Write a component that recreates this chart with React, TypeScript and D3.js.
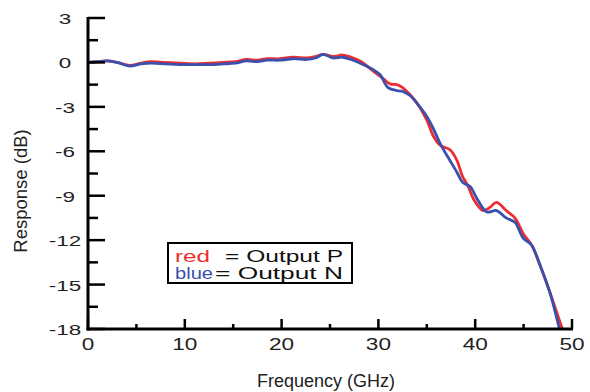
import React from 'react';
import * as d3 from 'd3';

// frequency (GHz) / response (dB)
const freqP = [0, 1, 2, 3, 4.3, 5.5, 6.5, 8, 9.5, 11.2, 12.5, 14, 15.2, 16.4, 17.5, 18.5, 19.8, 21.2, 22.6, 23.5, 24.3, 25.3, 26.3, 27.2, 28.1, 29.5, 30.5, 31.2, 31.9, 32.5, 33.3, 34.1, 35.0, 35.7, 36.4, 37.4, 38.1, 38.7, 39.3, 39.8, 40.8, 41.5, 42.2, 43.2, 44.1, 45.0, 45.8, 46.7, 47.7, 49.0];
const outputP = [0.0, 0.05, 0.1, 0.0, -0.2, -0.05, 0.05, 0.0, -0.05, -0.1, -0.05, 0.0, 0.05, 0.2, 0.15, 0.25, 0.25, 0.35, 0.3, 0.4, 0.55, 0.4, 0.5, 0.35, 0.1, -0.6, -1.1, -1.45, -1.5, -1.7, -2.2, -2.85, -3.9, -5.0, -5.6, -5.9, -6.6, -7.7, -8.4, -9.2, -10.0, -9.8, -9.45, -10.0, -10.5, -11.6, -12.3, -13.7, -15.5, -18.0];

const freqN = [0, 1, 2, 3, 4.3, 5.5, 6.5, 8, 9.5, 11.2, 12.5, 14, 15.2, 16.4, 17.5, 18.5, 19.8, 21.2, 22.6, 23.5, 24.3, 25.3, 26.3, 27.2, 28.1, 29.5, 30.2, 31.0, 31.9, 32.5, 33.3, 34.1, 35.0, 35.7, 36.4, 37.1, 38.1, 38.7, 39.5, 40.1, 41.2, 42.2, 43.2, 44.1, 45.0, 45.8, 46.7, 47.7, 48.7];
const outputN = [0.0, 0.05, 0.1, 0.0, -0.25, -0.1, -0.05, -0.1, -0.15, -0.15, -0.15, -0.1, -0.05, 0.1, 0.05, 0.15, 0.15, 0.25, 0.2, 0.3, 0.55, 0.3, 0.35, 0.2, -0.05, -0.5, -0.85, -1.7, -1.9, -1.95, -2.25, -2.85, -3.65, -4.5, -5.5, -6.3, -7.4, -8.1, -8.4, -9.1, -10.1, -10.0, -10.5, -10.8, -11.9, -12.3, -13.7, -15.5, -18.0];

const xMajor = [0, 10, 20, 30, 40, 50];
const xMinor = [5, 15, 25, 35, 45];
const yMajor = [3, 0, -3, -6, -9, -12, -15, -18];
const yMinor = [1.5, -1.5, -4.5, -7.5, -10.5, -13.5, -16.5];

const RED = '#ee2d30';
const BLUE = '#3a50ae';

export default function App() {
    const x = d3.scaleLinear().domain([0, 50]).range([88, 572]);
    const y = d3.scaleLinear().domain([-18, 3]).range([329, 18]);

    const line = d3.line<[number, number]>()
        .x(d => x(d[0]))
        .y(d => y(d[1]))
        .curve(d3.curveCatmullRom);

    const redPts = freqP.map((f, i) => [f, outputP[i]] as [number, number]);
    const bluePts = freqN.map((f, i) => [f, outputN[i]] as [number, number]);

    const font = 'Liberation Sans, Arial, Helvetica, sans-serif';

    return (
        <svg width={590} height={392} style={{position: 'absolute', left: 0, top: 0, background: '#fff'}}
             fontFamily={font}>
            <rect width={590} height={392} fill="#fff"/>

            {/* curves */}
            <path d={line(redPts) || ''} fill="none" stroke={RED} strokeWidth={2.8} strokeLinejoin="round"/>
            <path d={line(bluePts) || ''} fill="none" stroke={BLUE} strokeWidth={2.8} strokeLinejoin="round"/>

            {/* y ticks */}
            {yMajor.map(v => (
                <line key={'ym' + v} x1={x(0)} x2={x(0) + 17} y1={y(v)} y2={y(v)} stroke="#000" strokeWidth={2.5}/>
            ))}
            {yMinor.map(v => (
                <line key={'yn' + v} x1={x(0)} x2={x(0) + 10} y1={y(v)} y2={y(v)} stroke="#000" strokeWidth={2.5}/>
            ))}
            {yMajor.map(v => (
                <text key={'yl' + v} transform={`translate(65,${y(v) + 6}) scale(1.5,1)`} textAnchor="middle"
                      fontSize={15} fill="#222">{v}</text>
            ))}

            {/* x ticks */}
            {xMajor.map(v => (
                <line key={'xm' + v} x1={x(v)} x2={x(v)} y1={y(-18)} y2={y(-18) - 10} stroke="#000" strokeWidth={2.5}/>
            ))}
            {xMinor.map(v => (
                <line key={'xn' + v} x1={x(v)} x2={x(v)} y1={y(-18)} y2={y(-18) - 5} stroke="#000" strokeWidth={2.5}/>
            ))}
            {xMajor.map(v => (
                <text key={'xl' + v} transform={`translate(${x(v)},350) scale(1.37,1)`} textAnchor="middle"
                      fontSize={16.5} fill="#222">{v}</text>
            ))}

            {/* axis lines */}
            <line x1={x(0)} x2={x(0)} y1={y(3) - 1} y2={y(-18) + 1.5} stroke="#000" strokeWidth={3}/>
            <line x1={x(0) - 1.5} x2={x(50) + 1} y1={y(-18)} y2={y(-18)} stroke="#000" strokeWidth={3}/>

            {/* titles */}
            <text x={326} y={387} textAnchor="middle" fontSize={18} fill="#222">Frequency (GHz)</text>
            <text transform="translate(27,191) rotate(-90)" textAnchor="middle" fontSize={18.5} fill="#222">Response (dB)</text>

            {/* legend */}
            <rect x={168} y={243} width={184} height={40} fill="#fff" stroke="#000" strokeWidth={2}/>
            <text x={175} y={262} fontSize={16.5} fill={RED} textLength={35} lengthAdjust="spacingAndGlyphs">red</text>
            <text x={225} y={262} fontSize={16.5} fill="#111" textLength={118} lengthAdjust="spacingAndGlyphs">= Output P</text>
            <text x={175} y={279} fontSize={16.5} fill={BLUE} textLength={38} lengthAdjust="spacingAndGlyphs">blue</text>
            <text x={215} y={279} fontSize={16.5} fill="#111" textLength={128} lengthAdjust="spacingAndGlyphs">= Output N</text>
        </svg>
    );
}
